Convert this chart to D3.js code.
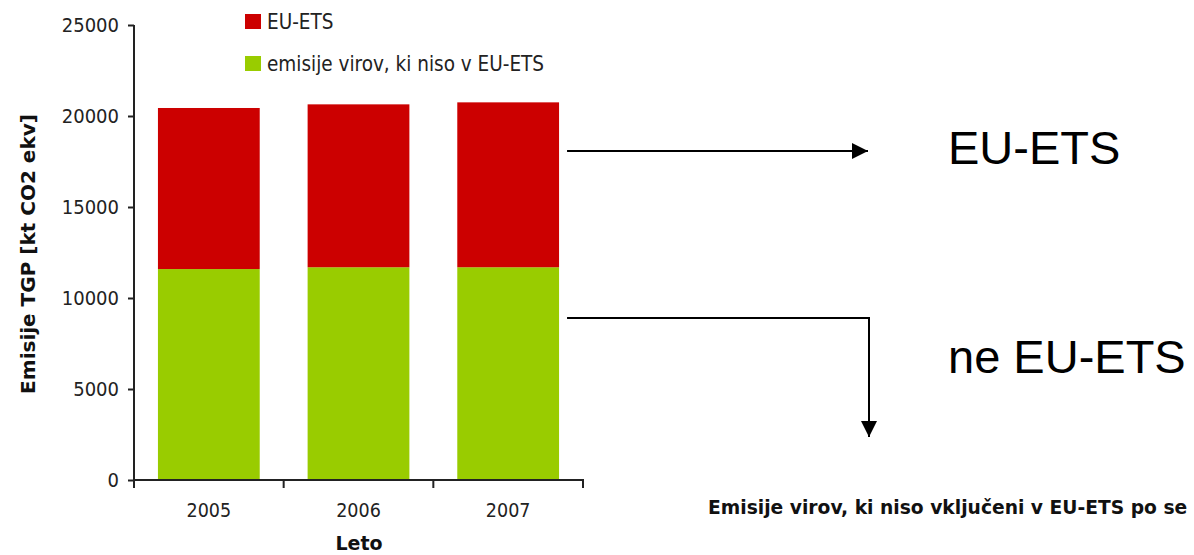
<!DOCTYPE html>
<html><head><meta charset="utf-8">
<script src="https://cdn.jsdelivr.net/npm/d3@7"></script>
<style>body{margin:0;background:#fff}svg{display:block}</style>
</head><body>
<svg id="c" width="1194" height="555"></svg>
<script>
const years = ["2005", "2006", "2007"];
const nonEts = [11590, 11690, 11690];
const euEts = [8850, 8950, 9060];
const yTicks = [0, 5000, 10000, 15000, 20000, 25000];
const seriesNames = ["emisije virov, ki niso v EU-ETS", "EU-ETS"];
const seriesColors = ["#99cc00", "#cc0000"];
const legendOrder = ["EU-ETS", "emisije virov, ki niso v EU-ETS"];

const svg = d3.select("#c");
const tickFont = "'DejaVu Sans Condensed', 'DejaVu Sans', sans-serif";
const boldFont = "'DejaVu Sans', sans-serif";
const x = d3.scaleBand().domain(years).range([134, 583]).paddingInner(0.32).paddingOuter(0.16);
const y = d3.scaleLinear().domain([0, 25000]).range([480, 25]);

const rows = years.map((yr, i) => ({year: yr, nonEts: nonEts[i], euEts: euEts[i]}));
const stack = d3.stack().keys(["nonEts", "euEts"])(rows);

svg.append("g").selectAll("g").data(stack).join("g")
  .attr("fill", (d, i) => seriesColors[i])
  .selectAll("rect").data(d => d).join("rect")
  .attr("x", d => x(d.data.year))
  .attr("width", x.bandwidth())
  .attr("y", d => y(d[1]))
  .attr("height", d => y(d[0]) - y(d[1]));

// Y axis
const ya = svg.append("g").attr("transform", "translate(134,0)")
  .call(d3.axisLeft(y).tickValues(yTicks).tickSize(6).tickPadding(9).tickFormat(d3.format("d")));
ya.select(".domain").attr("stroke", "#222").attr("stroke-width", 2).attr("d", "M0,25V480");
ya.selectAll(".tick line").attr("stroke", "#222").attr("stroke-width", 2);
ya.selectAll(".tick text").attr("font-family", tickFont).attr("font-size", 20).attr("fill", "#222");

// X axis
const xa = svg.append("g").attr("transform", "translate(0,480)");
xa.append("line").attr("x1", 133).attr("x2", 584).attr("stroke", "#222").attr("stroke-width", 2);
const bounds = [134].concat(years.map(d => x(d) + x.bandwidth() + x.step() * x.paddingInner() / 2));
bounds[bounds.length - 1] = 583;
xa.selectAll("line.tk").data(bounds).join("line").attr("class", "tk")
  .attr("x1", d => d).attr("x2", d => d).attr("y1", 0).attr("y2", 8)
  .attr("stroke", "#222").attr("stroke-width", 2);
xa.selectAll("text").data(years).join("text")
  .attr("x", d => x(d) + x.bandwidth() / 2).attr("y", 37)
  .attr("text-anchor", "middle").attr("font-family", tickFont).attr("font-size", 19.5).attr("fill", "#222")
  .text(d => d);

// axis titles
svg.append("text").attr("x", 359).attr("y", 550).attr("text-anchor", "middle")
  .attr("font-family", boldFont).attr("font-weight", "bold").attr("font-size", 19).attr("fill", "#111").text("Leto");
svg.append("text").attr("transform", "translate(35,254) rotate(-90)").attr("text-anchor", "middle")
  .attr("font-family", boldFont).attr("font-weight", "bold").attr("font-size", 20).attr("fill", "#111")
  .text("Emisije TGP [kt CO2 ekv]");

// legend
const lg = svg.append("g");
legendOrder.forEach((name, i) => {
  const col = seriesColors[seriesNames.indexOf(name)];
  lg.append("rect").attr("x", 245).attr("y", 14 + i * 42).attr("width", 16).attr("height", 15).attr("fill", col);
  lg.append("text").attr("x", 267).attr("y", 29 + i * 42).attr("font-family", tickFont).attr("font-size", 20.5)
    .attr("fill", "#222").text(name);
});

// annotations
const defs = svg.append("defs");
defs.append("marker").attr("id", "ah").attr("viewBox", "0 0 10 10").attr("refX", 10).attr("refY", 5)
  .attr("markerWidth", 16).attr("markerHeight", 16).attr("markerUnits", "userSpaceOnUse").attr("orient", "auto")
  .append("path").attr("d", "M0,0L10,5L0,10Z").attr("fill", "#000");

const lastYear = years[years.length - 1];
const xs = x(lastYear) + x.bandwidth() + 8;
const yEts = 151, yNon = 318;
svg.append("path").attr("d", `M${xs},${yEts}H868`).attr("stroke", "#000").attr("stroke-width", 2)
  .attr("fill", "none").attr("marker-end", "url(#ah)");
svg.append("path").attr("d", `M${xs},${yNon}H869V437`).attr("stroke", "#000").attr("stroke-width", 2)
  .attr("fill", "none").attr("marker-end", "url(#ah)");

const bigFont = "'Liberation Sans', Arial, sans-serif";
svg.append("text").attr("x", 948).attr("y", 164).attr("font-family", bigFont).attr("font-size", 47).attr("fill", "#000").text("EU-ETS");
svg.append("text").attr("x", 948).attr("y", 373).attr("font-family", bigFont).attr("font-size", 47).attr("fill", "#000").text("ne EU-ETS");

svg.append("text").attr("x", 708).attr("y", 514).attr("font-family", boldFont).attr("font-weight", "bold")
  .attr("font-size", 18.7).attr("fill", "#111").text("Emisije virov, ki niso vključeni v EU-ETS po se");
</script>
</body></html>
